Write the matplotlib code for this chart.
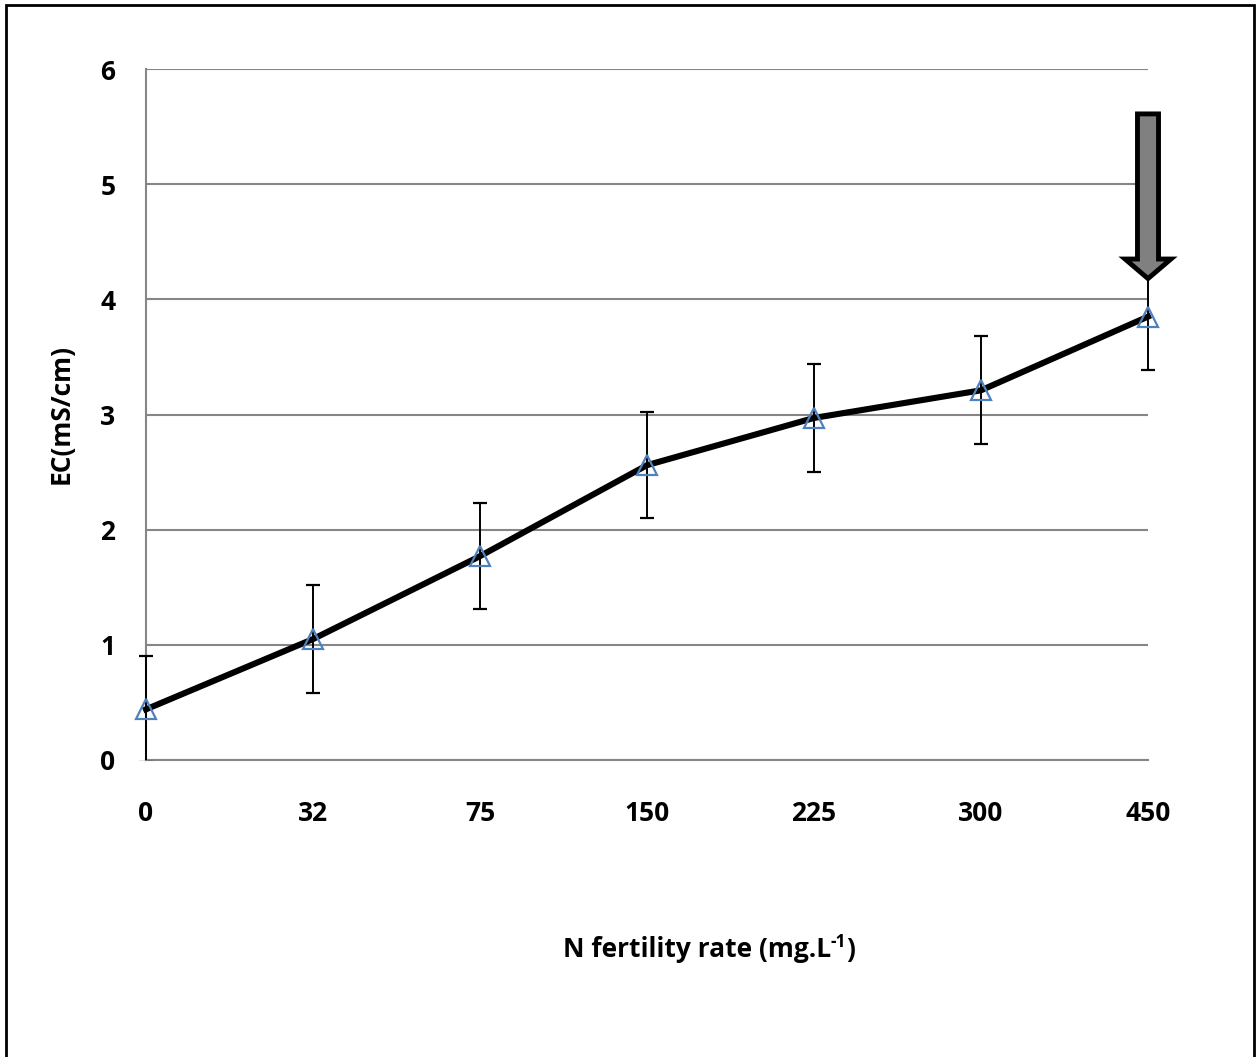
import numpy as np
import matplotlib
matplotlib.use("Agg")
import matplotlib.pyplot as plt
import matplotlib.patches as mpatches
from matplotlib.transforms import Bbox, TransformedBbox

# data
n_rates = ["0", "32", "75", "150", "225", "300", "450"]
ec_mean = [0.44, 1.05, 1.77, 2.56, 2.97, 3.21, 3.85]
ec_err = [0.46, 0.47, 0.46, 0.46, 0.47, 0.47, 0.46]
y_ticks = [0, 1, 2, 3, 4, 5, 6]

W, H = 1256, 1057
FONT = ["Open Sans", "DejaVu Sans"]
FS = 19

plt.rcParams["font.family"] = FONT
plt.rcParams["font.weight"] = "bold"


def main():
    fig = plt.figure(figsize=(W / 100, H / 100), dpi=100)
    ax = fig.add_axes([146 / W, 1 - 760 / H, (1148 - 146) / W, (760 - 69) / H])

    x = np.arange(len(n_rates))
    grid_c = "#868686"

    ax.set_xlim(0, len(n_rates) - 1)
    ax.set_ylim(0, 6)
    ax.set_xticks(x)
    ax.set_xticklabels(n_rates)
    ax.set_yticks(y_ticks)
    ax.set_yticklabels([str(v) for v in y_ticks])
    ax.tick_params(axis="both", length=0, labelsize=FS)
    ax.tick_params(axis="y", pad=22)
    ax.tick_params(axis="x", pad=29)
    for lab in ax.get_xticklabels() + ax.get_yticklabels():
        lab.set_fontweight("bold")

    ax.yaxis.grid(True, color=grid_c, lw=1.5)
    ax.set_axisbelow(True)
    for side in ["top", "right"]:
        ax.spines[side].set_visible(False)
    for side in ["left", "bottom"]:
        ax.spines[side].set_color(grid_c)
        ax.spines[side].set_linewidth(1.5)

    # main line
    ax.plot(x, ec_mean, color="black", lw=4.4, zorder=3, clip_on=False)

    # error bars, clipped only at y = 0
    eb = ax.errorbar(x, ec_mean, yerr=ec_err, fmt="none", ecolor="black",
                     elinewidth=1.4, capsize=4.7, capthick=1.6, zorder=4)
    clip = TransformedBbox(Bbox([[-0.5, 0.0], [6.5, 7.0]]), ax.transData)
    for art in list(eb.lines[1]) + list(eb.lines[2]):
        art.set_clip_box(clip)

    # open triangle markers
    ax.plot(x, ec_mean, linestyle="none", marker="^", ms=14, mfc="none",
            mec="#4F81BD", mew=1.6, zorder=5, clip_on=False)

    # grey arrow pointing at the 450 point
    arrow = mpatches.FancyArrow(6, 5.61, 0, -(5.61 - 4.18), width=0.126,
                                head_width=0.275, head_length=0.17,
                                length_includes_head=True, fc="#808080",
                                ec="black", lw=3.5, joinstyle="miter",
                                clip_on=False, zorder=6)
    ax.add_patch(arrow)

    fig.text(61 / W, 1 - 414 / H, "EC(mS/cm)", rotation=90, ha="center",
             va="center", fontsize=FS, fontweight="bold")

    # x label with a small raised "-1", pieced together
    renderer = fig.canvas.get_renderer()
    base_y = 1 - 957 / H
    t1 = fig.text(0, base_y, "N fertility rate (mg.L", ha="left",
                  va="baseline", fontsize=FS, fontweight="bold")
    w1 = t1.get_window_extent(renderer).width
    t2 = fig.text(0, base_y + 10 / H, "-1", ha="left", va="baseline",
                  fontsize=12.5, fontweight="bold")
    w2 = t2.get_window_extent(renderer).width
    t3 = fig.text(0, base_y, ")", ha="left", va="baseline",
                  fontsize=FS, fontweight="bold")
    w3 = t3.get_window_extent(renderer).width
    x0 = 709 - (w1 + w2 + w3) / 2
    t1.set_x(x0 / W)
    t2.set_x((x0 + w1) / W)
    t3.set_x((x0 + w1 + w2) / W)

    # outer frame
    frame = mpatches.Rectangle((6 / W, -0.01), (1254 - 6) / W, 1 - 5 / H + 0.01,
                               transform=fig.transFigure, fill=False,
                               ec="black", lw=2)
    fig.patches.append(frame)

    fig.savefig("out.png", dpi=100)
    plt.close(fig)


if __name__ == "__main__":
    main()
